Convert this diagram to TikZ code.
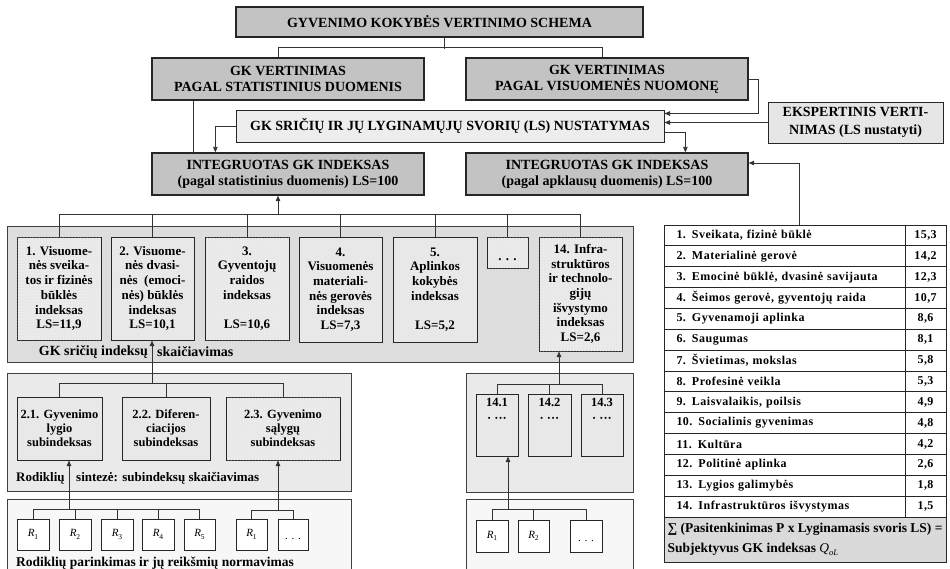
\documentclass[tikz,border=0pt]{standalone}
\usepackage{fontspec}
\setmainfont{Liberation Serif}
\usetikzlibrary{arrows.meta,patterns,shadows}
\definecolor{gdark}{RGB}{195,195,195}
\definecolor{glight}{RGB}{237,237,237}
\definecolor{geks}{RGB}{230,230,230}
\definecolor{gpanel}{RGB}{221,221,221}
\definecolor{ginner}{RGB}{232,232,232}
\definecolor{gpaneltwo}{RGB}{234,234,234}
\definecolor{gpanelthree}{RGB}{247,247,247}
\definecolor{gsum}{RGB}{218,218,218}
\newcommand{\fntH}{\fontsize{14}{16}\selectfont\bfseries}
\newcommand{\fntE}{\fontsize{14}{18}\selectfont\bfseries}
\newcommand{\fntB}{\fontsize{13}{14.7}\selectfont\bfseries}
\newcommand{\fntL}{\fontsize{14}{16}\selectfont\bfseries}
\newcommand{\fntS}{\fontsize{12.5}{14}\selectfont\bfseries}
\newcommand{\fntT}{\fontsize{12}{13}\selectfont\bfseries\addfontfeature{LetterSpace=4}}
\newcommand{\fntR}{\fontsize{11}{13}\selectfont}
\newcommand{\fntQ}{\fontsize{13.5}{20}\selectfont\bfseries}
\newcommand{\Rl}[1]{\textit{R}\raisebox{-2.5pt}{\fontsize{7.5}{8}\selectfont #1}}
\newcommand{\Qol}{{\mdseries\itshape Q\raisebox{-3pt}{\fontsize{8.5}{9}\selectfont oL}}}
\newcommand{\cbox}[7]{\node[#1, minimum width={(#5-#3)*1pt}, minimum height={(#6-#4)*1pt}] (#2) at ({(#3+#5)/2},{(#4+#6)/2}) {#7};}
\begin{document}
\begin{tikzpicture}[x=1pt,y=-1pt,
  lin/.style={draw=black!80, line width=0.8pt},
  arr/.style={lin, -{Triangle[length=5.5pt,width=4.5pt]}},
  bx/.style={draw=black!85, line width=1pt, align=center, inner sep=1pt, font=\fntB},
  hd/.style={bx, fill=gdark, line width=1.3pt, font=\fntH, drop shadow={shadow xshift=1.2pt, shadow yshift=-1.2pt, fill=black!50, opacity=1}},
  panel/.style={draw=black!75, line width=0.9pt, inner sep=0pt},
  dom/.style={bx, fill=ginner},
  sub/.style={bx, fill=ginner, font=\fntS},
  dotf/.style={postaction={pattern=dots, pattern color=white}},
  rb/.style={draw=black!85, line width=0.9pt, fill=white, font=\fntR, inner sep=0pt},
  cell/.style={draw=black!85, line width=0.9pt, fill=white, font=\fntT, inner sep=0pt},
  txt/.style={inner sep=0pt, font=\fntB}]
\useasboundingbox (0,0) rectangle (950,568);

% panels
\cbox{panel, fill=gpanel}{pM}{7}{226}{633}{362}{}
\cbox{panel, fill=gpaneltwo}{pLtwo}{7}{373}{351}{491}{}
\cbox{panel, fill=gpaneltwo}{pRtwo}{466}{373}{633}{492}{}
\cbox{panel, fill=gpanelthree}{pLthree}{7}{499}{351}{590}{}
\cbox{panel, fill=gpanelthree}{pRthree}{466}{499}{633}{590}{}

% header boxes
\cbox{hd}{title}{236}{7}{643}{37}{GYVENIMO KOKYBĖS VERTINIMO SCHEMA}
\cbox{hd}{gkstat}{152}{58}{424}{100}{GK VERTINIMAS\\PAGAL STATISTINIUS DUOMENIS}
\cbox{hd}{gkvis}{466}{58}{748}{100}{GK VERTINIMAS\\PAGAL VISUOMENĖS NUOMONĘ}
\cbox{bx, fill=glight, font=\fntH}{ls}{236}{110}{664}{142}{GK SRIČIŲ IR JŲ LYGINAMŲJŲ SVORIŲ (LS) NUSTATYMAS}
\cbox{bx, fill=geks, font=\fntE}{eks}{768}{102}{943}{143}{EKSPERTINIS VERTI-\\NIMAS (LS nustatyti)}
\cbox{hd}{intL}{152}{153}{424}{195}{INTEGRUOTAS GK INDEKSAS\\(pagal statistinius duomenis) LS=100}
\cbox{hd}{intR}{466}{153}{748}{195}{INTEGRUOTAS GK INDEKSAS\\(pagal apklausų duomenis) LS=100}

% domain boxes
\cbox{dom, dotf}{d1}{17}{237}{101}{340}{1. Visuome-\\nės sveika-\\tos ir fizinės\\būklės\\indeksas\\LS=11,9}
\cbox{dom}{d2}{111}{237}{194}{340}{2. Visuome-\\nės dvasi-\\nės~ (emoci-\\nės) būklės\\indeksas\\LS=10,1}
\cbox{dom, dotf}{d3}{205}{237}{289}{340}{3.\\Gyventojų\\raidos\\indeksas\\[14.7pt]LS=10,6}
\cbox{dom}{d4}{299}{237}{382}{342}{4.\\Visuomenės\\materiali-\\nės gerovės\\indeksas\\LS=7,3}
\cbox{dom}{d5}{393}{237}{477}{342}{5.\\Aplinkos\\kokybės\\indeksas\\[14.7pt]LS=5,2}
\cbox{dom, dotf}{dd}{487}{237}{528}{268}{\raisebox{-8pt}[0pt][0pt]{. . .}}
\cbox{dom, dotf}{d14}{539}{237}{622}{351}{14. Infra-\\struktūros\\ir technolo-\\gijų\\išvystymo\\indeksas\\LS=2,6}

\node[txt, font=\fntL, anchor=east] (lblA) at (148,352) {GK sričių indeksų};
\node[txt, font=\fntL, anchor=west] (lblB) at (157,352) {skaičiavimas};

% sub-index boxes
\cbox{sub}{s1}{17}{397}{102}{460}{2.1. Gyvenimo\\lygio\\subindeksas}
\cbox{sub}{s2}{122}{397}{210}{460}{2.2. Diferen-\\ciacijos\\subindeksas}
\cbox{sub, dotf}{s3}{226}{397}{340}{460}{2.3. Gyvenimo\\sąlygų\\subindeksas}
\cbox{sub, label={[anchor=north, yshift=-5pt, align=center, inner sep=0pt, font=\fntS]north:14.1\\[2pt]· ···}}{t1}{476}{394}{518}{456}{}
\cbox{sub, label={[anchor=north, yshift=-5pt, align=center, inner sep=0pt, font=\fntS]north:14.2\\[2pt]· ···}}{t2}{528}{394}{571}{456}{}
\cbox{sub, label={[anchor=north, yshift=-5pt, align=center, inner sep=0pt, font=\fntS]north:14.3\\[2pt]· ···}}{t3}{581}{394}{623}{456}{}

\node[txt, anchor=west] (lblC) at (16,478) {Rodiklių};
\node[txt, anchor=west] (lblD) at (76,478) {sintezė: subindeksų skaičiavimas};

% indicator boxes
\cbox{rb}{r1}{17}{519}{49}{550}{\Rl{1}}
\cbox{rb}{r2}{59}{519}{91}{550}{\Rl{2}}
\cbox{rb}{r3}{101}{519}{133}{550}{\Rl{3}}
\cbox{rb}{r4}{142}{519}{174}{550}{\Rl{4}}
\cbox{rb}{r5}{184}{519}{215}{550}{\Rl{5}}
\cbox{rb}{r6}{236}{519}{267}{550}{\Rl{1}}
\cbox{rb}{r7}{278}{519}{308}{550}{\raisebox{-5pt}[0pt][0pt]{. . .}}
\cbox{rb}{u1}{476}{520}{508}{552}{\Rl{1}}
\cbox{rb}{u2}{518}{520}{549}{552}{\Rl{2}}
\cbox{rb}{u3}{570}{520}{602}{552}{\raisebox{-5pt}[0pt][0pt]{. . .}}

\node[txt, font=\fontsize{13.5}{15}\selectfont\bfseries, anchor=west] (lblE) at (16,563) {Rodiklių parinkimas ir jų reikšmių normavimas};

% table
\foreach \lab/\val [count=\i] in {
 {1. Sveikata, fizinė būklė}/{15,3},
 {2. Materialinė gerovė}/{14,2},
 {3. Emocinė būklė, dvasinė savijauta}/{12,3},
 {4. Šeimos gerovė, gyventojų raida}/{10,7},
 {5. Gyvenamoji aplinka}/{8,6},
 {6. Saugumas}/{8,1},
 {7. Švietimas, mokslas}/{5,8},
 {8. Profesinė veikla}/{5,3},
 {9. Laisvalaikis, poilsis}/{4,9},
 {10. Socialinis gyvenimas}/{4,8},
 {11. Kultūra}/{4,2},
 {12. Politinė aplinka}/{2,6},
 {13. Lygios galimybės}/{1,8},
 {14. Infrastruktūros išvystymas}/{1,5}}{
 \node[cell, minimum width=241pt, minimum height=20.857pt, text width=216pt, inner xsep=12.5pt, align=left] (tl\i) at (784.5,{225+(\i-0.5)*20.857}) {\lab};
 \node[cell, minimum width=41pt, minimum height=20.857pt] (tv\i) at (925.5,{225+(\i-0.5)*20.857}) {\val};
}
\cbox{cell, fill=gsum, font=\fntQ, align=left}{sum}{664}{517}{946}{562}{∑ (Pasitenkinimas P x Lyginamasis svoris LS) =\\Subjektyvus GK indeksas \Qol}

% connectors: top
\draw[lin] ([xshift=5pt]title.south) -- ++(0,11);
\draw[lin] ([xshift=-10pt]gkstat.north) -- ++(0,-10) -| ([xshift=-5pt]gkvis.north);
\draw[lin] ([xshift=42pt]gkstat.south west) -- ([xshift=42pt]intL.north west);
\draw[arr] (ls.west) -| ([xshift=64pt]intL.north west);
\draw[arr] (gkvis.east) -- ++(10,0) |- ([yshift=-4pt]ls.north east);
\draw[arr] (eks.west) -- (eks.west -| ls.east);
\draw[arr] ([yshift=-6pt]ls.east) -| ([xshift=220pt]intR.north west);
\draw[arr] ([xshift=136pt]tl1.north west) |- ([yshift=11pt]intR.east);

% domain bus
\coordinate (busA) at (278,214);
\draw[arr] (busA) -- (busA |- intL.south);
\draw[lin] (d1.north) -- (d1.north |- busA) -- (d14.north |- busA) -- (d14.north);
\foreach \n in {d2,d3,d4,d5,dd} \draw[lin] (\n.north) -- (\n.north |- busA);

% sub-index bus (2.x)
\coordinate (busB) at (152,383);
\draw[arr] (busB) -- (busB |- d2.south);
\draw[lin] (s1.north) -- (s1.north |- busB) -- (s3.north |- busB) -- (s3.north);
\draw[lin] (s2.north) -- (s2.north |- busB);

% sub-index bus (14.x)
\coordinate (busC) at (559,384);
\draw[arr] (busC) -- (busC |- d14.south);
\draw[lin] (t1.north) -- (t1.north |- busC) -- (t3.north |- busC) -- (t3.north);
\draw[lin] (t2.north) -- (t2.north |- busC);

% indicator buses
\coordinate (busD) at (69,509);
\draw[arr] (busD) -- (busD |- s1.south);
\draw[lin] (r1.north) -- (r1.north |- busD) -- (r5.north |- busD) -- (r5.north);
\foreach \n in {r2,r3,r4} \draw[lin] (\n.north) -- (\n.north |- busD);

\coordinate (busE) at (278,510);
\draw[arr] (busE) -- (busE |- s3.south);
\draw[lin] (r6.north) -- (r6.north |- busE) -- (r7.north |- busE) -- (r7.north);

\coordinate (busF) at (508,509);
\draw[arr] (busF) -- (busF |- t1.south);
\draw[lin] (u1.north) -- (u1.north |- busF) -- (u3.north |- busF) -- (u3.north);
\draw[lin] (u2.north) -- (u2.north |- busF);
\end{tikzpicture}
\end{document}
